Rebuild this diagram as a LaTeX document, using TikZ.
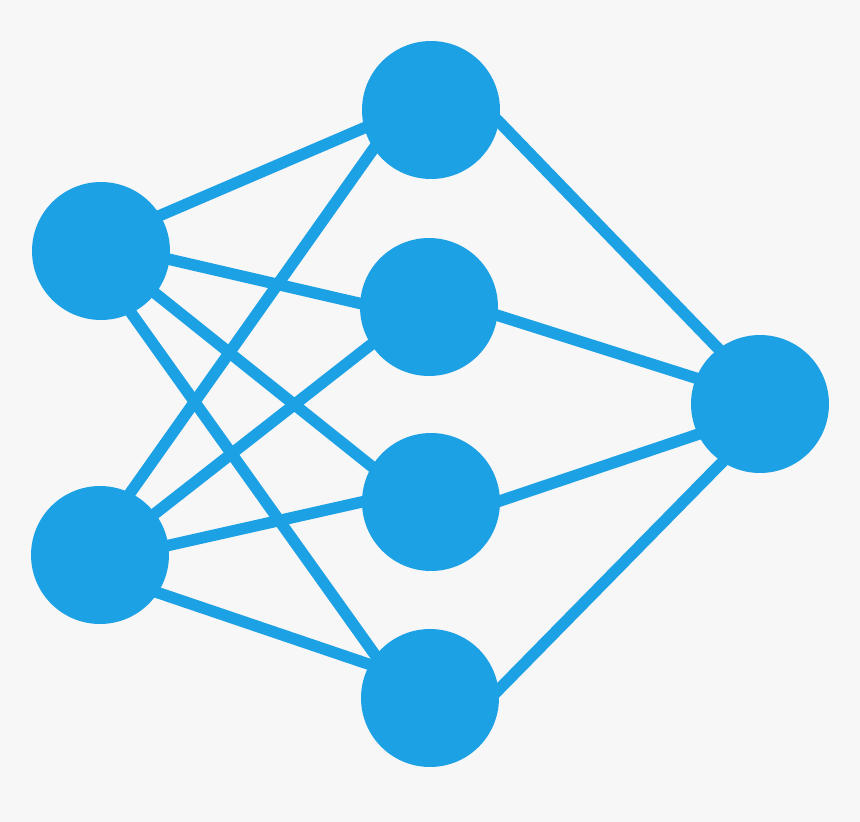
\documentclass[tikz,border=0pt]{standalone}
\usepackage{tikz}
\usepackage{xcolor}
\usetikzlibrary{backgrounds}
\definecolor{netblue}{HTML}{1CA1E5}
\definecolor{netback}{HTML}{F7F7F7}

\begin{document}
\begin{tikzpicture}[x=0.02cm, y=-0.02cm,
      every node/.style = {circle, fill=netblue, minimum size=2.76cm, inner sep=0pt},
      link/.style = {draw=netblue, line width=0.23cm, shorten <=-0.2cm, shorten >=-0.2cm}]
      \useasboundingbox (0,0) rectangle (860,822);
      % input layer
      \node (in1) at (101,251) {};
      \node (in2) at (100,555) {};
      % hidden layer
      \node (h1) at (431,110) {};
      \node (h2) at (429,307) {};
      \node (h3) at (431,502) {};
      \node (h4) at (430,698) {};
      % output layer
      \node (out) at (760,404) {};
      \begin{scope}[on background layer]
      \fill[netback] (0,0) rectangle (860,822);
      \foreach \a/\b in {in1.31/h1.195, in1.-7/h2.177, in1.-38/h3.149, in1.-64/h4.142,
                         in2.64/h1.214, in2.37/h2.213, in2.8/h3.180, in2.-33/h4.151,
                         h1.-10/out.127, h2.-7/out.158, h3.1/out.206, h4.7/out.237}
        \draw[link] (\a) -- (\b);
      \end{scope}
\end{tikzpicture}
\end{document}
